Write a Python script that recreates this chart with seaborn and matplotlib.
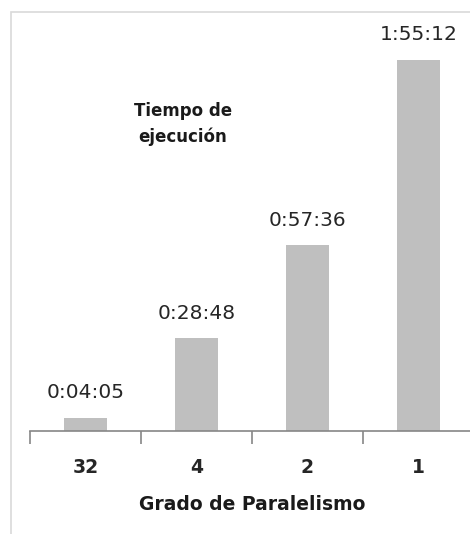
import matplotlib
matplotlib.use("Agg")
from matplotlib import pyplot as plt
from matplotlib.patches import Rectangle
import pandas as pd
import seaborn as sns

# data
grados = ["32", "4", "2", "1"]
segundos = [245, 1728, 3456, 6912]
etiquetas = ["0:04:05", "0:28:48", "0:57:36", "1:55:12"]

df = pd.DataFrame({"grado": grados, "segundos": segundos})

sns.set_theme(style="white")
plt.rcParams['font.family'] = ['DejaVu Sans']

fig = plt.figure(figsize=(4.70, 5.34), dpi=100)
ax = fig.add_axes([30 / 470, 103 / 534, 444 / 470, 419 / 534])

sns.barplot(ax=ax, data=df, x="grado", y="segundos", color="#BFBFBF",
            saturation=1, width=0.39, order=grados, linewidth=0)

ax.set_xlim(-0.5, 3.5)
ax.set_ylim(0, 7806)

# value labels
for i, (v, t) in enumerate(zip(segundos, etiquetas)):
    ax.text(i, v + 470, t, ha="center", va="center", fontsize=14.5, color="#262626")

# axis style
for s in ["top", "right", "left"]:
    ax.spines[s].set_visible(False)
ax.spines["bottom"].set_color("#868686")
ax.spines["bottom"].set_linewidth(1.2)
ax.set_yticks([])
ax.set_xticks([-0.5, 0.5, 1.5, 2.5, 3.5])
ax.set_xticklabels([])
ax.tick_params(axis="x", direction="out", length=9, width=1.2,
               color="#868686", bottom=True)
for i, g in enumerate(grados):
    ax.text(i, -0.087, g, transform=ax.get_xaxis_transform(), ha="center", va="center",
            fontsize=13.5, fontweight="bold", color="#262626")
ax.set_xlabel("")
ax.set_ylabel("")
fig.text(252 / 470, 1 - 505 / 534, "Grado de Paralelismo", ha="center", va="center",
         fontsize=13.5, fontweight="bold", color="#1a1a1a")

# title inside plot
fig.text(183 / 470, 1 - 124 / 534, "Tiempo de\nejecución", ha="center", va="center",
         fontsize=12, fontweight="bold", color="#1a1a1a", linespacing=1.45)

# chart frame
fig.patches.append(Rectangle((11 / 470, -0.1), 1.2, (534 - 12) / 534 + 0.1,
                             transform=fig.transFigure, fill=False,
                             edgecolor="#D9D9D9", linewidth=1.2))

fig.savefig("out.png", dpi=100)
